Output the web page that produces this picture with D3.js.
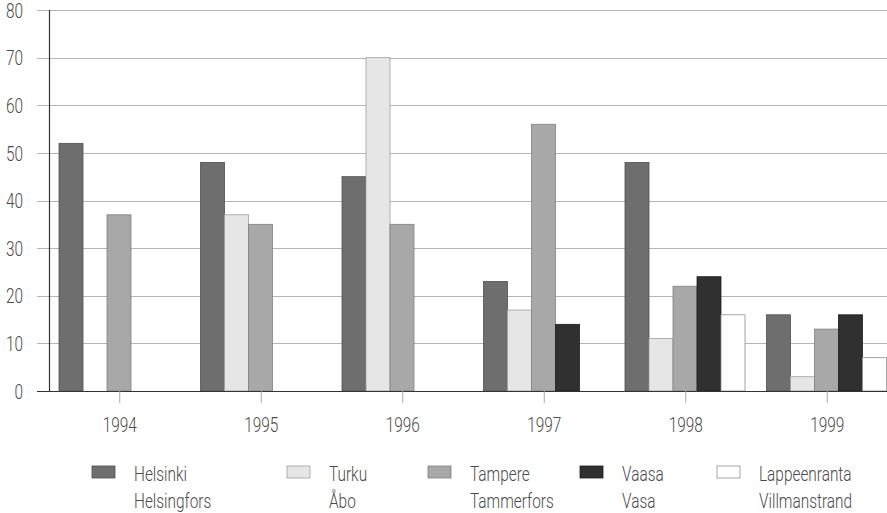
<!DOCTYPE html>
<html><head><meta charset="utf-8">
<script src="https://cdn.jsdelivr.net/npm/d3@7"></script>
<style>
html,body{margin:0;padding:0;background:#fff;overflow:hidden}
text{font-family:Roboto,"Liberation Sans",sans-serif;font-weight:300;fill:#4a4a4a}
</style></head>
<body>
<svg id="chart" width="887" height="513"></svg>
<script>
const years = ["1994","1995","1996","1997","1998","1999"];
const seriesNames = ["Helsinki","Turku","Tampere","Vaasa","Lappeenranta"];
const seriesNamesSv = ["Helsingfors","Åbo","Tammerfors","Vasa","Villmanstrand"];
const helsinki     = [52, 48, 45, 23, 48, 16];
const turku        = [0, 37, 70, 17, 11, 3];
const tampere      = [37, 35, 35, 56, 22, 13];
const vaasa        = [0, 0, 0, 14, 24, 16];
const lappeenranta = [0, 0, 0, 0, 16, 7];
const yTicks = [0,10,20,30,40,50,60,70,80];

(function(){
const seriesValues = [helsinki, turku, tampere, vaasa, lappeenranta];
const fills   = ["#6e6e6e","#e6e6e6","#a8a8a8","#303030","#ffffff"];
const strokes = ["#505050","#a0a0a0","#808080","#1e1e1e","#8f8f8f"];
const legendX = [92, 287, 428, 580, 717];
const SX = 0.77, FS = 20;

const svg = d3.select("#chart");
const mL = 49, mR = 898, mT = 10, mB = 391;

const x = d3.scaleBand().domain(years).range([mL, mR]).paddingInner(0).paddingOuter(0);
const x1 = d3.scaleBand().domain(seriesNames).range([10, 10 + 120]);
const y = d3.scaleLinear().domain([0, 80]).range([mB, mT]);

// gridlines
svg.append("g").selectAll("line").data(yTicks.filter(d => d > 0)).join("line")
  .attr("x1", 37).attr("x2", 887)
  .attr("y1", d => Math.round(y(d)) + 0.5).attr("y2", d => Math.round(y(d)) + 0.5)
  .attr("stroke", "#b5b5b5").attr("stroke-width", 1);

// y axis labels
const yAxis = d3.axisLeft(y).tickValues(yTicks).tickSize(0).tickPadding(0);
const gy = svg.append("g").attr("transform", `translate(23,0)`).call(yAxis);
gy.select(".domain").remove();
gy.selectAll("text").attr("font-size", FS).attr("dy", "0.36em").attr("x", 0)
  .attr("transform", `scale(${SX},1)`)
  .style("font-family", "Roboto, sans-serif").style("font-weight", 300).attr("fill", "#4a4a4a");

// bars
const data = [];
years.forEach((yr, i) => seriesNames.forEach((s, j) => {
  const v = seriesValues[j][i];
  if (v > 0) data.push({yr, s, j, v});
}));
svg.append("g").selectAll("rect").data(data).join("rect")
  .attr("x", d => x(d.yr) + x1(d.s))
  .attr("width", x1.bandwidth())
  .attr("y", d => y(d.v))
  .attr("height", d => y(0) - y(d.v))
  .attr("fill", d => fills[d.j])
  .attr("stroke", d => strokes[d.j])
  .attr("stroke-width", 0.8);

// y axis line
svg.append("line").attr("x1", mL + 0.5).attr("x2", mL + 0.5).attr("y1", mT).attr("y2", mB)
  .attr("stroke", "#333").attr("stroke-width", 1.2);
// x baseline
svg.append("line").attr("x1", 37).attr("x2", 887).attr("y1", mB + 0.5).attr("y2", mB + 0.5)
  .attr("stroke", "#333").attr("stroke-width", 1.2);

// x axis
const xAxis = d3.axisBottom(x).tickSize(12).tickPadding(15);
const gx = svg.append("g").attr("transform", `translate(0,${mB})`).call(xAxis);
gx.select(".domain").remove();
gx.selectAll(".tick line").attr("stroke", "#aaa");
gx.selectAll("text").attr("font-size", FS).attr("fill", "#4a4a4a")
  .attr("transform", `scale(${SX},1)`)
  .style("font-family", "Roboto, sans-serif").style("font-weight", 300);

// legend
const lg = svg.append("g").selectAll("g").data(seriesNames).join("g")
  .attr("transform", (d, i) => `translate(${legendX[i]},0)`);
lg.append("rect").attr("y", 466).attr("width", 23).attr("height", 12)
  .attr("fill", (d, i) => fills[i]).attr("stroke", (d, i) => strokes[i]).attr("stroke-width", 0.8);
const lt = lg.append("g").attr("transform", `translate(42,0) scale(${SX},1)`);
lt.append("text").attr("y", 481).attr("font-size", FS).text(d => d);
lt.append("text").attr("y", 508).attr("font-size", FS).text((d, i) => seriesNamesSv[i]);
})();
</script>
</body></html>
